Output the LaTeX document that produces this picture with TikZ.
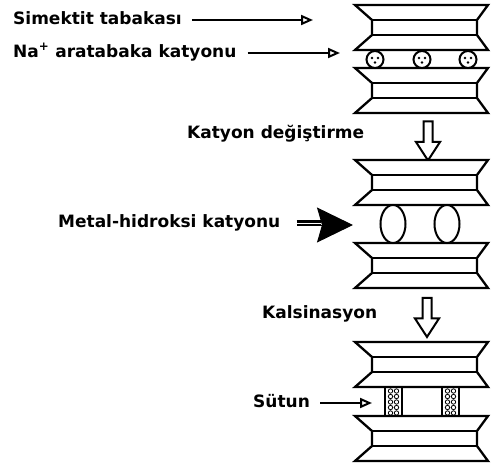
\documentclass[tikz,border=0pt]{standalone}
\usepackage{fontspec}
\setmainfont{DejaVu Sans}
\usetikzlibrary{arrows.meta, shapes.arrows, shapes.geometric}

% one clay sheet, top edge at y = #1
\newcommand{\sheetat}[1]{%
  \draw[sheet] (355,#1) -- (488,#1) -- (477,#1+15) -- (477,#1+30) -- (488,#1+45)
    -- (355,#1+45) -- (372,#1+30) -- (372,#1+15) -- cycle;
  \draw[sheet] (372,#1+15) -- (477,#1+15) (372,#1+30) -- (477,#1+30);}

\begin{document}
\begin{tikzpicture}[x=1pt, y=-1pt,
   lbl/.style={font=\bfseries\fontsize{17}{19}\selectfont, anchor=west, inner sep=0pt,
               text height=12pt, text depth=3.5pt},
   sheet/.style={line width=2.3pt, fill=white},
   ion/.style={draw, line width=2pt, fill=white},
   thinarr/.style={line width=2pt, -{Triangle[open, length=12pt, width=10pt]}},
   downarr/.style={shape=single arrow, draw, line width=2pt, rotate=-90,
                   minimum height=39pt, single arrow head extend=7.5pt,
                   single arrow tip angle=66, inner xsep=0pt, inner ysep=3.5pt}]
  \useasboundingbox (0,0) rectangle (491,471);

  % Na+ exchanged smectite
  \sheetat{5}
  \sheetat{68}
  \foreach \cx [count=\i] in {375,422,468} {
    \node[ion, circle, minimum size=17pt, inner sep=0pt] (na\i) at (\cx,59.5) {};
    \fill (\cx-3,58) circle (1.4pt) (\cx+3,58) circle (1.4pt) (\cx,62.5) circle (1.4pt);
  }
  \node[lbl] (simtxt) at (13,20) {Simektit tabakası};
  \coordinate (simtip) at (313,20);
  \draw[thinarr, shorten <=10pt] (simtxt.east) -- (simtxt.east -| simtip);
  \node[lbl] (natxt) at (13,53) {Na\textsuperscript{+} aratabaka katyonu};
  \coordinate (natip) at (340,53);
  \draw[thinarr, shorten <=11pt] (natxt.east) -- (natxt.east -| natip);

  % exchange step
  \node[lbl] (kdtxt) at (187,134) {Katyon değiştirme};
  \node[downarr] (darr1) at (428,137.5) {};

  % metal-hydroxy cations between the sheets
  \sheetat{160}
  \sheetat{243}
  \node[ion, ellipse, minimum width=25pt, minimum height=38pt, inner sep=0pt] (mh1) at (393,224) {};
  \node[ion, ellipse, minimum width=25pt, minimum height=38pt, inner sep=0pt] (mh2) at (447,224) {};
  \node[lbl] (mhtxt) at (58,223) {Metal-hidroksi katyonu};
  \coordinate (mhtip) at (353,225);
  % double shaft, then the solid head
  \draw[line width=2.4pt, double distance=1pt, shorten <=16pt, shorten >=32pt]
    (mhtxt.east) -- (mhtxt.east -| mhtip);
  \draw[line width=1pt, -{Stealth[length=36pt, width=35pt, inset=5pt]}]
    ([xshift=-37pt]mhtip) -- (mhtip);

  % calcination step
  \node[lbl] (kstxt) at (262,314) {Kalsinasyon};
  \node[downarr] (darr2) at (427,314) {};

  % pillared clay
  \sheetat{342}
  \sheetat{416}
  \foreach \px [count=\i] in {385,442} {
    \draw[line width=2.3pt] (\px,387) -- (\px,416) (\px+17,387) -- (\px+17,416);
    \coordinate (col\i) at (\px,401.5);
    \foreach \py in {391,396.5,402,407.5,413}
      \draw[line width=0.8pt] (\px+5.5,\py) circle (2.2pt) (\px+11.5,\py) circle (2.2pt);
  }
  \node[lbl] (sttxt) at (253,403) {Sütun};
  \coordinate (sttip) at (372,403);
  \draw[thinarr, shorten <=10pt] (sttxt.east) -- (sttxt.east -| sttip);
\end{tikzpicture}
\end{document}
